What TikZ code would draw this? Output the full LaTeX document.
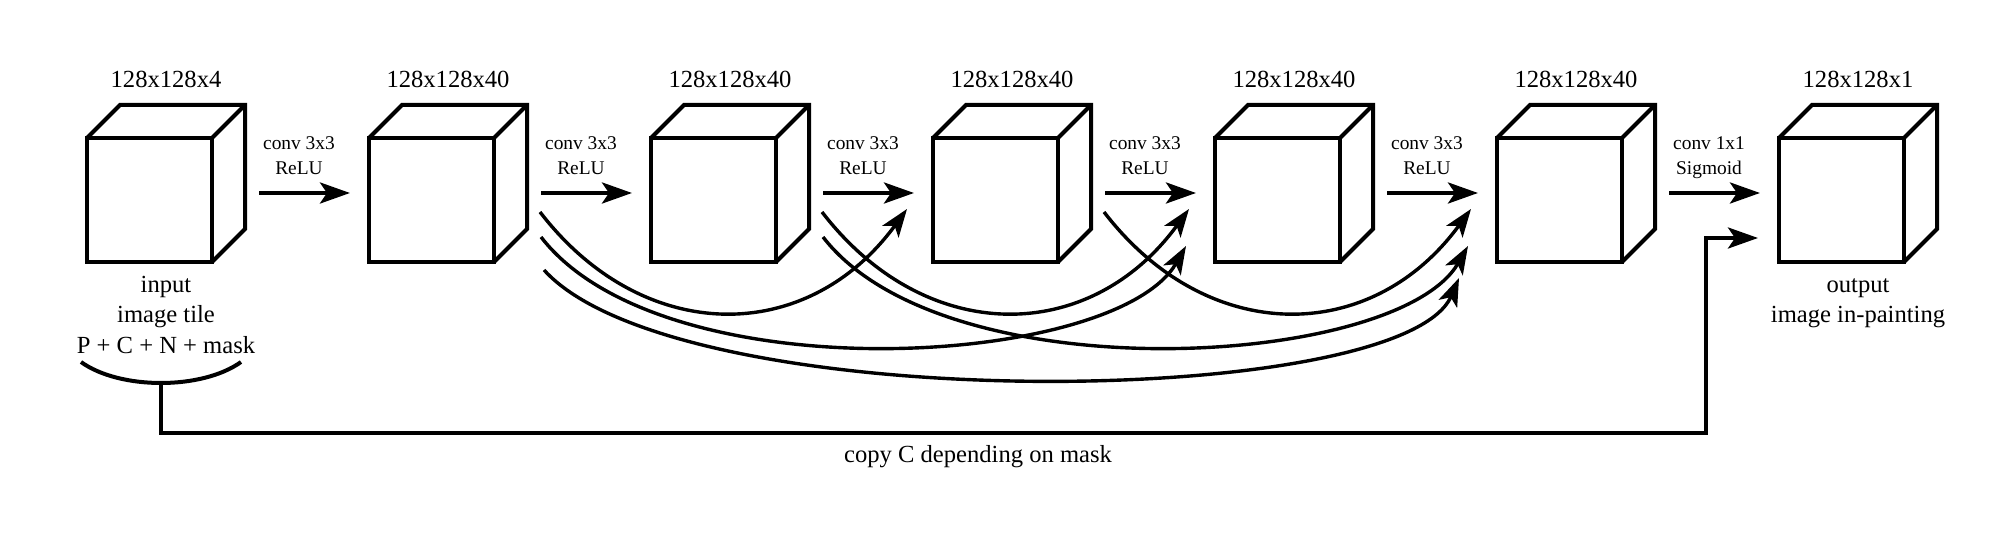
\documentclass[tikz,border=0pt]{standalone}
\usepackage{fontspec}
\setmainfont{Liberation Serif}
\usetikzlibrary{arrows.meta,calc}
\begin{document}
\begin{tikzpicture}[x=0.5pt,y=-0.5pt,
  frontface/.style={draw,line width=2pt,fill=white,minimum width=62.5pt,minimum height=62pt,inner sep=0pt,outer sep=0pt},
  cubeline/.style={line width=2pt,line join=miter},
  flowarrow/.style={line width=2.1pt,-{Stealth[length=15pt,width=10.5pt,inset=3.5pt]}},
  skiparrow/.style={line width=1.7pt,-{Stealth[length=14pt,width=10pt,inset=3.5pt]}},
  biglbl/.style={font=\fontsize{12.3}{15}\selectfont,inner sep=0pt,anchor=base},
  smalllbl/.style={font=\fontsize{9.7}{12}\selectfont,inner sep=0pt,anchor=base},
]
\useasboundingbox (0,0) rectangle (2014,539);

% cubes
\foreach \i/\lab in {0/128x128x4,1/128x128x40,2/128x128x40,3/128x128x40,4/128x128x40,5/128x128x40,6/128x128x1} {
  \node[frontface] (c\i) at (149.5+282*\i,200) {};
  \draw[cubeline] (c\i.north west) -- ++(33,-33) -- ++(125,0) -- ++(0,124) -- (c\i.south east)
                  (c\i.north east) -- ++(33,-33);
  \node[biglbl] (t\i) at ($(c\i.north)+(16.5,-50)$) {\lab};
}

% main flow arrows
\foreach \i/\j in {0/1,1/2,2/3,3/4,4/5,5/6} {
  \coordinate (o\i) at ($(c\i.east)+(47,-7)$);
  \coordinate (n\j) at ($(c\j.west)+(-19,-7)$);
  \draw[flowarrow] (o\i) -- (n\j);
}
\foreach \i/\a/\b in {0/conv 3x3/ReLU,1/conv 3x3/ReLU,2/conv 3x3/ReLU,3/conv 3x3/ReLU,4/conv 3x3/ReLU,5/conv 1x1/Sigmoid} {
  \node[smalllbl] (la\i) at ($(c\i.east)+(87,-50.5)$) {\a};
  \node[smalllbl] (lb\i) at ($(c\i.east)+(87,-25.7)$) {\b};
}

% skip connections
\foreach \i/\j in {1/3,2/4,3/5} {
  \coordinate (sa\i) at ($(c\i.east)+(46,12)$);
  \coordinate (ea\j) at ($(c\j.west)+(-26,9)$);
  \draw[skiparrow] (sa\i) .. controls +(103,134) and +(-100,137) .. (ea\j);
}
\foreach \i/\j in {1/4,2/5} {
  \coordinate (sb\i) at ($(c\i.east)+(47,37)$);
  \coordinate (eb\j) at ($(c\j.west)+(-29,46)$);
  \draw[skiparrow] (sb\i) .. controls +(122,158) and +(-70,122) .. (eb\j);
}
\coordinate (sc1) at ($(c1.east)+(50,70)$);
\coordinate (ec5) at ($(c5.west)+(-38,78)$);
\draw[skiparrow] (sc1) .. controls +(134,148) and +(-57,132) .. (ec5);

% labels below
\node[biglbl] (in1) at ($(c0.south)+(16.5,30.5)$) {input};
\node[biglbl] (in2) at ($(c0.south)+(16.5,61)$) {image tile};
\node[biglbl] (in3) at ($(c0.south)+(16.5,92)$) {P + C + N + mask};
\node[biglbl] (out1) at ($(c6.south)+(16.5,30.5)$) {output};
\node[biglbl] (out2) at ($(c6.south)+(16.5,61)$) {image in-painting};

% brace and copy path
\coordinate (b1) at ($(c0.south)+(-68.5,100)$);
\coordinate (b2) at ($(c0.south)+(91.5,100)$);
\coordinate (bm) at ($(c0.south)+(11.5,121)$);
\draw[cubeline] (b1) .. controls +(39,28) and +(-39,28) .. (b2);
\coordinate (k) at ($(c6.west)+(-73,233)$);
\coordinate (m6) at ($(c6.west)+(-21,38)$);
\draw[flowarrow,line width=2pt] (bm) |- (k) |- (m6);
\node[biglbl] (copytxt) at (978,463) {copy C depending on mask};
\end{tikzpicture}
\end{document}
